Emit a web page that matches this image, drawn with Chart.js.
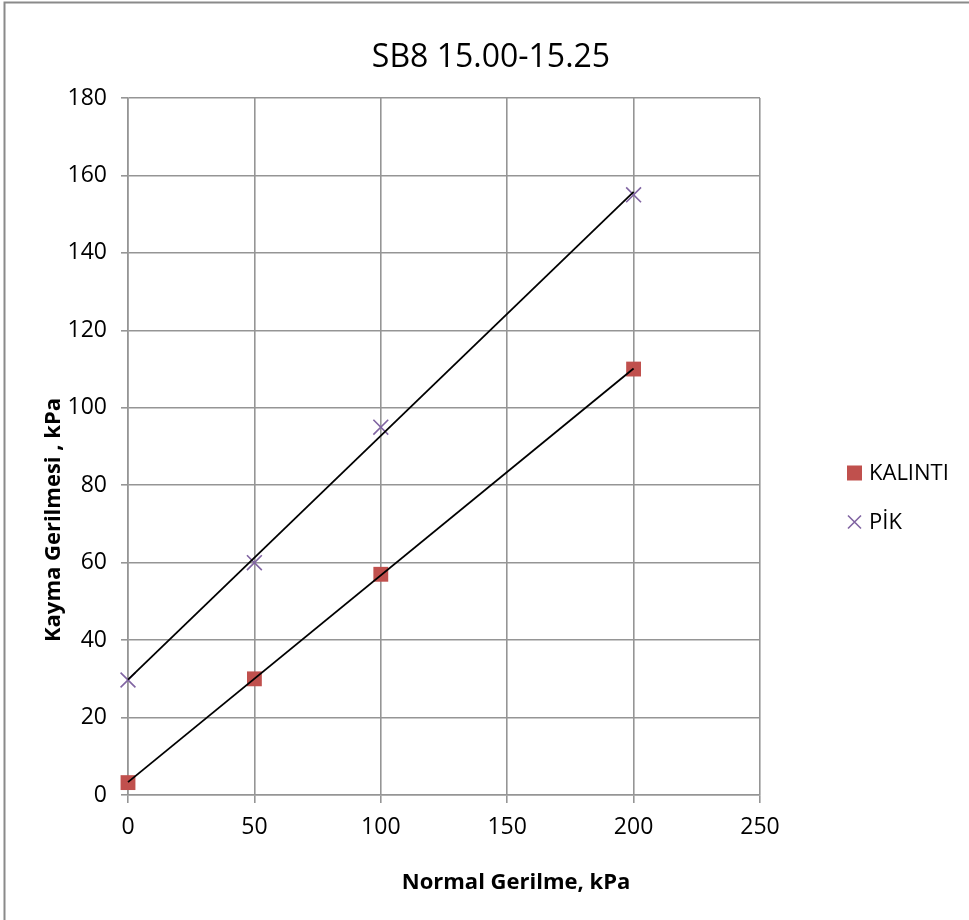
<!DOCTYPE html>
<html>
<head>
<meta charset="utf-8">
<script src="https://cdn.jsdelivr.net/npm/chart.js@4.4.1/dist/chart.umd.min.js"></script>
<style>
  html, body { margin: 0; padding: 0; background: #fff; }
  #wrap { width: 969px; height: 920px; }
</style>
</head>
<body>
<div id="wrap"><canvas id="shearChart" width="969" height="920"></canvas></div>
<script>
/* --------------- Data --------------------- */
const normalStress = [0, 50, 100, 200];
const residual = [3.2, 30, 57, 110];   // KALINTI
const peak = [29.7, 60, 95, 155];      // PİK

const chartTitle = "SB8 15.00-15.25";
const xTitle = "Normal Gerilme, kPa";
const yTitle = "Kayma Gerilmesi , kPa";
const fontFamily = "'Open Sans', 'Liberation Sans', sans-serif";

/* --------------- Linear trendline from the points --------------------- */
const fitLine = (xs, ys) => {
  const n = xs.length;
  const mx = xs.reduce((a, b) => a + b, 0) / n;
  const my = ys.reduce((a, b) => a + b, 0) / n;
  let sxy = 0, sxx = 0;
  xs.forEach((x, i) => { sxy += (x - mx) * (ys[i] - my); sxx += (x - mx) * (x - mx); });
  const k = sxy / sxx;
  const b = my - k * mx;
  const x0 = Math.min(...xs), x1 = Math.max(...xs);
  return [{ x: x0, y: k * x0 + b }, { x: x1, y: k * x1 + b }];
};

const toPoints = (ys) => normalStress.map((x, i) => ({ x: x, y: ys[i] }));

/* --------------- Frame, titles and legend drawn by hand --------------------- */
const framePlugin = {
  id: "frame",
  beforeDraw(chart) {
    const c = chart.ctx;
    c.save();
    c.fillStyle = "#fff";
    c.fillRect(0, 0, chart.width, chart.height);
    c.strokeStyle = "#8a8a8a";
    c.lineWidth = 2;
    c.beginPath();
    c.moveTo(4.5, chart.height);
    c.lineTo(4.5, 2.5);
    c.lineTo(chart.width, 2.5);
    c.stroke();
    c.restore();
  },
  afterDraw(chart) {
    const c = chart.ctx;
    c.save();
    c.fillStyle = "#000";
    c.textAlign = "center";

    // chart title
    c.font = "32px " + fontFamily;
    c.textBaseline = "alphabetic";
    c.fillText(chartTitle, 491, 67);

    // axis titles
    c.font = "bold 22px " + fontFamily;
    c.textBaseline = "middle";
    c.fillText(xTitle, 516, 883);
    c.save();
    c.translate(54, 520);
    c.rotate(-Math.PI / 2);
    c.fillText(yTitle, 0, 0);
    c.restore();

    // legend
    const items = chart.data.datasets.filter((d) => d.inLegend);
    c.font = "22px " + fontFamily;
    c.textAlign = "left";
    items.forEach((d, i) => {
      const y = 473 + i * 49;
      if (d.pointStyle === "rect") {
        c.fillStyle = d.backgroundColor;
        c.fillRect(847, y - 7.5, 15, 15);
      } else {
        c.strokeStyle = d.borderColor;
        c.lineWidth = 1.6;
        c.beginPath();
        c.moveTo(848, y - 6.5); c.lineTo(861, y + 6.5);
        c.moveTo(861, y - 6.5); c.lineTo(848, y + 6.5);
        c.stroke();
      }
      c.fillStyle = "#000";
      c.fillText(d.label, 869, y + 1);
    });
    c.restore();
  },
};

/* --------------- Chart --------------------- */
const gridColor = "#959595";

new Chart(document.getElementById("shearChart"), {
  type: "scatter",
  plugins: [framePlugin],
  data: {
    datasets: [
      {
        label: "trend-kalinti",
        data: fitLine(normalStress, residual),
        showLine: true,
        borderColor: "#000",
        borderWidth: 1.8,
        pointRadius: 0,
        clip: false,
      },
      {
        label: "trend-pik",
        data: fitLine(normalStress, peak),
        showLine: true,
        borderColor: "#000",
        borderWidth: 1.8,
        pointRadius: 0,
        clip: false,
      },
      {
        label: "KALINTI",
        inLegend: true,
        data: toPoints(residual),
        pointStyle: "rect",
        pointRadius: 10.5,
        backgroundColor: "#c0504d",
        borderColor: "#c0504d",
        borderWidth: 0,
        clip: false,
      },
      {
        label: "PİK",
        inLegend: true,
        data: toPoints(peak),
        pointStyle: "crossRot",
        pointRadius: 10.5,
        backgroundColor: "#8064a2",
        borderColor: "#8064a2",
        borderWidth: 1.6,
        clip: false,
      },
    ],
  },
  options: {
    responsive: false,
    animation: false,
    layout: { padding: { left: 36, right: 209, top: 98, bottom: 15 } },
    plugins: {
      legend: { display: false },
      tooltip: { enabled: false },
      title: { display: false },
    },
    scales: {
      x: {
        type: "linear",
        min: 0,
        max: 250,
        ticks: { stepSize: 50, color: "#000", padding: 11, font: { family: fontFamily, size: 23 } },
        grid: { color: gridColor, lineWidth: 1.6, tickLength: 8 },
        border: { color: gridColor, width: 1.6 },
        afterFit: (s) => { s.height = 110; },
      },
      y: {
        type: "linear",
        min: 0,
        max: 180,
        ticks: { stepSize: 20, color: "#000", padding: 14, font: { family: fontFamily, size: 23 } },
        grid: { color: gridColor, lineWidth: 1.6, tickLength: 7 },
        border: { color: gridColor, width: 1.6 },
        afterFit: (s) => { s.width = 92; },
      },
    },
  },
});
</script>
</body>
</html>
